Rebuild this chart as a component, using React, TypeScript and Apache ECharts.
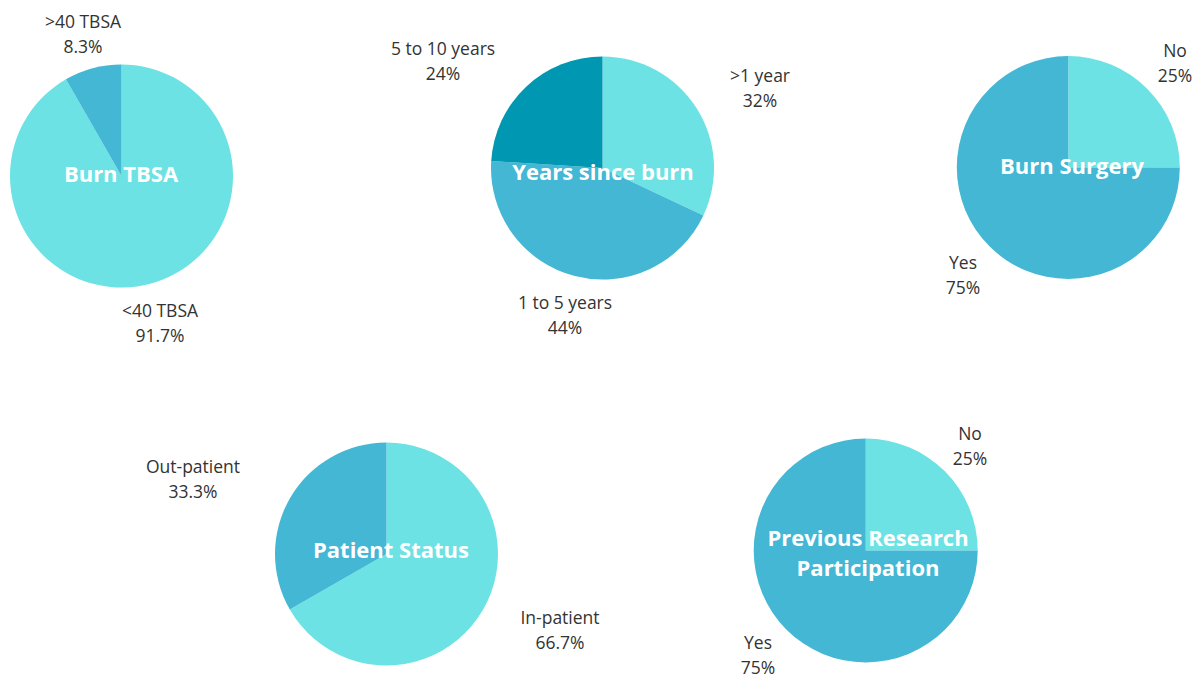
import React, { useEffect, useRef } from "react";
import * as echarts from "echarts";

const tbsaNames = ["<40 TBSA", ">40 TBSA"];
const tbsaValues = [91.7, 8.3];

const yearsNames = [">1 year", "1 to 5 years", "5 to 10 years"];
const yearsValues = [32, 44, 24];

const surgeryNames = ["No", "Yes"];
const surgeryValues = [25, 75];

const statusNames = ["In-patient", "Out-patient"];
const statusValues = [66.7, 33.3];

const researchNames = ["No", "Yes"];
const researchValues = [25, 75];

const LIGHT = "#6ce2e5";
const MED = "#43b7d4";
const DARK = "#0097b2";

const FONT = "'Open Sans', 'Noto Sans', sans-serif";

type PieDef = {
  title: string[];
  names: string[];
  values: number[];
  colors: string[];
  center: [number, number];
  radius: number;
  titleY: number;
  titleX: number;
  labelPos: [number, number][];
};

const pies: PieDef[] = [
  {
    title: ["Burn TBSA"],
    names: tbsaNames,
    values: tbsaValues,
    colors: [LIGHT, MED],
    center: [121.5, 176],
    radius: 111.5,
    titleX: 121,
    titleY: 173,
    labelPos: [
      [160, 322],
      [83, 33],
    ],
  },
  {
    title: ["Years since burn"],
    names: yearsNames,
    values: yearsValues,
    colors: [LIGHT, MED, DARK],
    center: [602.5, 168],
    radius: 111.5,
    titleX: 603,
    titleY: 171,
    labelPos: [
      [760, 87],
      [565, 314],
      [443, 60],
    ],
  },
  {
    title: ["Burn Surgery"],
    names: surgeryNames,
    values: surgeryValues,
    colors: [LIGHT, MED],
    center: [1068.3, 167.5],
    radius: 111.5,
    titleX: 1072,
    titleY: 165,
    labelPos: [
      [1175, 62],
      [963, 274],
    ],
  },
  {
    title: ["Patient Status"],
    names: statusNames,
    values: statusValues,
    colors: [LIGHT, MED],
    center: [386.5, 554],
    radius: 111.5,
    titleX: 391,
    titleY: 549,
    labelPos: [
      [560, 629],
      [193, 478],
    ],
  },
  {
    title: ["Previous Research", "Participation"],
    names: researchNames,
    values: researchValues,
    colors: [LIGHT, MED],
    center: [865.7, 550.5],
    radius: 112,
    titleX: 868,
    titleY: 552,
    labelPos: [
      [970, 445],
      [758, 654],
    ],
  },
];

export default function App() {
  const ref = useRef<HTMLDivElement>(null);

  useEffect(() => {
    if (!ref.current) return;
    const chart = echarts.init(ref.current, undefined, { renderer: "svg" });

    const series = pies.map((p, si) => ({
      type: "pie",
      center: p.center,
      radius: p.radius,
      startAngle: 90,
      clockwise: true,
      silent: true,
      avoidLabelOverlap: false,
      emphasis: { disabled: true },
      labelLine: { show: false },
      label: {
        show: true,
        position: "outside",
        formatter: "{b}\n{c}%",
        color: "#333333",
        fontSize: 17.5,
        fontFamily: FONT,
        lineHeight: 25,
        align: "center",
        overflow: "none",
        width: 200,
      },
      labelLayout: (params: any) => {
        const pos = pies[si].labelPos[params.dataIndex];
        return {
          x: pos[0],
          y: pos[1],
          align: "center",
          verticalAlign: "middle",
          hideOverlap: false,
          moveOverlap: false,
        };
      },
      itemStyle: { borderWidth: 0 },
      data: p.names.map((n, i) => ({
        name: n,
        value: p.values[i],
        itemStyle: { color: p.colors[i] },
      })),
    }));

    const graphics = pies.map((p) => ({
      type: "text",
      x: p.titleX,
      y: p.titleY,
      z: 100,
      silent: true,
      style: {
        text: p.title.join("\n"),
        fill: "#ffffff",
        font: `bold 22px ${FONT}`,
        lineHeight: 30,
        align: "center",
        verticalAlign: "middle",
      },
    }));

    chart.setOption({
      animation: false,
      backgroundColor: "#ffffff",
      series,
      graphic: graphics,
    });

    return () => chart.dispose();
  }, []);

  return (
    <div
      ref={ref}
      style={{ position: "fixed", left: 0, top: 0, width: 1201, height: 679 }}
    />
  );
}
